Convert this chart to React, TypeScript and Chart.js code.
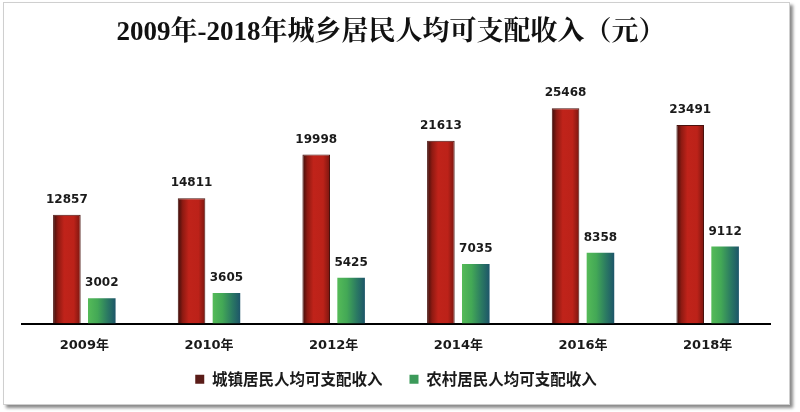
import { useEffect, useRef } from 'react';
import { Chart, registerables } from 'chart.js';
Chart.register(...registerables);

const years = ['2009年', '2010年', '2012年', '2014年', '2016年', '2018年'];
const urbanIncome = [12857, 14811, 19998, 21613, 25468, 23491];
const ruralIncome = [3002, 3605, 5425, 7035, 8358, 9112];
const seriesNames = ['城镇居民人均可支配收入', '农村居民人均可支配收入'];
const titleText = '2009年-2018年城乡居民人均可支配收入（元）';

const CAT_PCT = 0.56;
const BAR_PCT = 0.79;

const redStops: [number, string][] = [
  [0, '#3a0e0b'],
  [0.18, '#8e1a12'],
  [0.4, '#c0231a'],
  [0.75, '#bc2219'],
  [1, '#7a160f'],
];
const greenStops: [number, string][] = [
  [0, '#55bb58'],
  [0.35, '#43a856'],
  [0.7, '#2b7a62'],
  [1, '#1d5569'],
];

function barGradient(c: any, stops: [number, string][]) {
  const chart = c.chart;
  const xs = chart.scales && chart.scales.x;
  if (!chart.chartArea || !xs || c.dataIndex === undefined) return stops[2][1];
  const n = chart.data.labels.length;
  const catW = (xs.right - xs.left) / n;
  const slot = (catW * CAT_PCT) / 2;
  const center = xs.getPixelForValue(c.dataIndex) + (c.datasetIndex - 0.5) * slot;
  const w = slot * BAR_PCT;
  const g = chart.ctx.createLinearGradient(center - w / 2, 0, center + w / 2, 0);
  stops.forEach(([o, col]) => g.addColorStop(o, col));
  return g;
}

const titlePlugin = {
  id: 'customTitle',
  afterDraw(chart: any) {
    const ctx = chart.ctx;
    ctx.save();
    ctx.font = "bold 27px 'Liberation Serif', 'Noto Serif CJK SC', 'Noto Sans CJK SC', serif";
    ctx.fillStyle = '#111';
    ctx.textAlign = 'center';
    ctx.textBaseline = 'middle';
    ctx.fillText(titleText, 391, 33);
    ctx.restore();
  },
};

// let the x tick labels draw below the (deliberately short) x-axis box
const labelAreaPlugin = {
  id: 'labelArea',
  afterLayout(chart: any) {
    const xs = chart.scales.x;
    if (xs) xs.bottom = chart.height;
  },
};

const valueLabelPlugin = {
  id: 'valueLabels',
  afterDatasetsDraw(chart: any) {
    const ctx = chart.ctx;
    ctx.save();
    ctx.font = "bold 12px 'DejaVu Sans', sans-serif";
    ctx.fillStyle = '#1a1a1a';
    ctx.textAlign = 'center';
    ctx.textBaseline = 'middle';
    chart.data.datasets.forEach((ds: any, di: number) => {
      const meta = chart.getDatasetMeta(di);
      meta.data.forEach((el: any, i: number) => {
        ctx.fillText(String(ds.data[i]), el.x, el.y - 15);
      });
    });
    ctx.restore();
  },
};

export default function App() {
  const canvasRef = useRef<HTMLCanvasElement | null>(null);

  useEffect(() => {
    document.body.style.margin = '0';
    const canvas = canvasRef.current;
    if (!canvas) return;
    const chart = new Chart(canvas, {
      type: 'bar',
      data: {
        labels: years,
        datasets: [
          {
            label: seriesNames[0],
            data: urbanIncome,
            backgroundColor: (c: any) => barGradient(c, redStops),
            borderColor: '#4a120e',
            borderWidth: 1,
            categoryPercentage: CAT_PCT,
            barPercentage: BAR_PCT,
          },
          {
            label: seriesNames[1],
            data: ruralIncome,
            backgroundColor: (c: any) => barGradient(c, greenStops),
            borderWidth: 0,
            categoryPercentage: CAT_PCT,
            barPercentage: BAR_PCT,
          },
        ],
      },
      options: {
        animation: false,
        responsive: true,
        maintainAspectRatio: false,
        layout: { padding: { top: 70, left: 22, right: 30, bottom: 15 } },
        scales: {
          x: {
            grid: { display: false, drawTicks: false },
            border: { display: true, color: '#000', width: 2 },
            ticks: {
              color: '#1a1a1a',
              padding: 14,
              font: { size: 13, weight: 'bold', family: "'DejaVu Sans', 'Noto Sans CJK SC', sans-serif" },
            },
            afterFit: (scale: any) => {
              scale.height = 21;
            },
          },
          y: { display: false, min: 0, max: 30000 },
        },
        plugins: {
          title: { display: false },
          tooltip: { enabled: false },
          legend: {
            position: 'bottom',
            labels: {
              boxWidth: 9,
              boxHeight: 9,
              padding: 27,
              color: '#1a1a1a',
              font: { size: 15.5, weight: 'bold', lineHeight: 1, family: "'Noto Sans CJK SC', sans-serif" },
              generateLabels: () => [
                { text: seriesNames[0], fillStyle: '#5a1c18', strokeStyle: '#5a1c18', lineWidth: 0, hidden: false, datasetIndex: 0, fontColor: '#1a1a1a' },
                { text: seriesNames[1], fillStyle: '#3c9a5a', strokeStyle: '#3c9a5a', lineWidth: 0, hidden: false, datasetIndex: 1, fontColor: '#1a1a1a' },
              ],
            },
          },
        },
      } as any,
      plugins: [titlePlugin, labelAreaPlugin, valueLabelPlugin],
    });
    return () => chart.destroy();
  }, []);

  return (
    <div style={{ position: 'relative', width: 800, height: 412, background: '#fff' }}>
      <div
        style={{
          position: 'absolute',
          left: 3,
          top: 2,
          width: 785,
          height: 401,
          border: '1px solid #cfcfcf',
          boxShadow: '3px 3px 3px #8a8a8a',
          background: '#fff',
        }}
      />
      <canvas ref={canvasRef} style={{ position: 'absolute', left: 0, top: 0, width: 800, height: 412 }} />
    </div>
  );
}
